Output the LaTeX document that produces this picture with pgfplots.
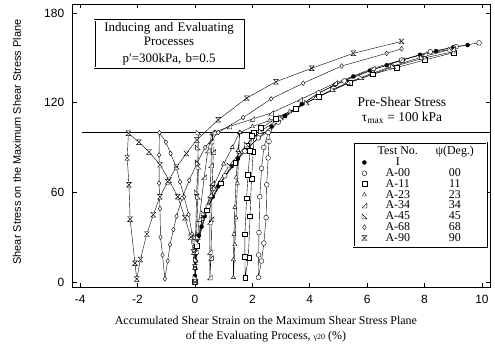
\documentclass[border=0pt]{standalone}
\usepackage{fontspec}
\setmainfont{Liberation Serif}
\setsansfont{Liberation Sans}
\usepackage{pgfplots}
\pgfplotsset{compat=1.18}
\pgfdeclareplotmark{hourglass}{%
  \pgfpathmoveto{\pgfqpoint{-\pgfplotmarksize}{\pgfplotmarksize}}%
  \pgfpathlineto{\pgfqpoint{\pgfplotmarksize}{\pgfplotmarksize}}%
  \pgfpathlineto{\pgfqpoint{-\pgfplotmarksize}{-\pgfplotmarksize}}%
  \pgfpathlineto{\pgfqpoint{\pgfplotmarksize}{-\pgfplotmarksize}}%
  \pgfpathclose\pgfusepathqfillstroke}
\pgfdeclareplotmark{rtria}{%
  \pgfpathmoveto{\pgfqpoint{-\pgfplotmarksize}{-\pgfplotmarksize}}%
  \pgfpathlineto{\pgfqpoint{\pgfplotmarksize}{-\pgfplotmarksize}}%
  \pgfpathlineto{\pgfqpoint{\pgfplotmarksize}{\pgfplotmarksize}}%
  \pgfpathclose\pgfusepathqfillstroke}
\pgfdeclareplotmark{rtrib}{%
  \pgfpathmoveto{\pgfqpoint{-\pgfplotmarksize}{\pgfplotmarksize}}%
  \pgfpathlineto{\pgfqpoint{-\pgfplotmarksize}{-\pgfplotmarksize}}%
  \pgfpathlineto{\pgfqpoint{\pgfplotmarksize}{-\pgfplotmarksize}}%
  \pgfpathclose\pgfusepathqfillstroke}
\begin{document}
\begin{tikzpicture}
\path[use as bounding box] (-72.7bp,-57bp) rectangle (422.3bp,287bp);
\begin{axis}[
  at={(0,0)}, anchor=south west,
  scale only axis, width=417.3bp, height=283bp,
  xmin=-4.26, xmax=10.28, ymin=-3.4, ymax=186,
  xtick={-4,-2,...,10}, ytick={0,60,120,180},
  tick align=inside, major tick length=4bp,
  axis line style={line width=1pt},
  every tick/.style={black, line width=0.8pt},
  tick label style={font=\sffamily\fontsize{12}{13}\selectfont},
  /pgf/number format/assume math mode=true,
  xticklabel style={yshift=-5bp},
  yticklabel style={xshift=-5bp},
  xlabel={Accumulated Shear Strain on the Maximum Shear Stress Plane\\of the Evaluating Process, {\footnotesize γ20} (\%)},
  xlabel style={at={(axis description cs:0.463,-0.150)}, anchor=center, align=center, font=\fontsize{12}{15}\selectfont},
  ylabel={Shear Stress on the Maximum Shear Stress Plane},
  ylabel style={at={(axis description cs:-0.1335,0.512)}, anchor=center, rotate=0, font=\sffamily\fontsize{11}{13}\selectfont},
  legend image code/.code={\draw[#1, only marks] plot coordinates {(0.3cm,0cm)};},
  legend style={at={(axis description cs:0.993,0.141)}, anchor=south east, draw=black, double, line width=0.6pt, double distance=1pt, font=\fontsize{12}{12}\selectfont, row sep=-2.6pt, inner sep=2pt},
  legend cell align=left,
  every axis plot/.append style={black, line width=0.4pt, mark size=2.4pt, mark options={solid, fill=white, line width=0.4pt}},
]
\addlegendimage{empty legend}
\addlegendentry{\makebox[58bp]{Test No.}\makebox[56bp]{ψ(Deg.)}\hspace{6bp}}

\addplot[forget plot, line width=0.6pt] coordinates {(-3.95,100) (10.28,100)};

% I (monotonic)
\addplot[mark=*, mark options={fill=black}, mark size=2pt] coordinates {
(0,0) (0,4) (0.01,9) (0.02,14) (0.04,19) (0.06,24) (0.14,31) (0.23,37) (0.34,44) (0.46,50.5) (0.62,57) (0.81,64) (1.04,71) (1.28,77.4) (1.5,82.5) (1.74,87.5) (2.21,96.4) (2.67,104) (3.14,111) (3.72,119) (4.3,126) (4.88,132) (5.52,137.5) (6.1,141.5) (6.68,145) (7.25,148.5) (7.84,152) (8.4,154.5) (9,157) (9.5,158.5)};
\addlegendentry{\makebox[58bp]{I}\makebox[56bp]{}\hspace{6bp}}

% A-00
\addplot[mark=*] coordinates {
(0,0) (0.06,24) (0.46,50.5) (1.04,71) (1.74,87.5) (2.21,96.4) (2.6,101)
(2.58,94) (2.55,83) (2.5,65) (2.48,43) (2.4,26) (2.32,14) (2.21,3)
(2.22,18) (2.23,33) (2.26,57) (2.32,76) (2.4,90) (2.55,100) (2.9,107) (3.5,115.5) (4.3,126.5) (5.2,134.5) (6.2,142) (7.2,148.5) (8.2,154) (9.1,157.5) (9.9,160)};
\addlegendentry{\makebox[58bp]{A-00}\makebox[56bp]{00}\hspace{6bp}}

% A-11
\addplot[mark=square*] coordinates {
(0,0) (0.06,24) (0.4,48) (0.9,66) (1.4,80) (1.8,91) (2.05,100)
(2.03,87) (1.97,69) (1.92,44) (1.86,16) (1.75,3)
(1.74,17) (1.74,32) (1.8,56) (1.85,72) (1.92,88) (1.98,98) (2.3,103) (2.81,109) (3.5,116) (4.3,124) (5.38,133.5) (6.2,139) (7.03,143.5) (8.0,148.5) (9.02,153.5)};
\addlegendentry{\makebox[58bp]{A-11}\makebox[56bp]{11}\hspace{6bp}}

% A-23
\addplot[mark=triangle*] coordinates {
(0,0) (0.04,20) (0.25,42) (0.6,62) (1.0,79) (1.3,90) (1.55,100)
(1.53,87) (1.48,66) (1.43,43) (1.39,25) (1.34,3)
(1.34,15) (1.36,32) (1.39,50) (1.44,70) (1.5,88) (1.57,100) (2.0,104) (2.6,108) (3.3,114) (4.2,123) (5.34,133) (6.9,144) (8.0,150) (9.0,154)};
\addlegendentry{\makebox[58bp]{A-23}\makebox[56bp]{23}\hspace{6bp}}

% A-34
\addplot[mark=rtria] coordinates {
(0,0) (0.03,20) (0.15,42) (0.32,70) (0.45,88) (0.6,100)
(0.64,87) (0.6,66) (0.58,42) (0.56,16) (0.52,3)
(0.52,20) (0.52,40) (0.53,58) (0.56,78) (0.58,94) (0.65,100) (1.2,104) (2.0,109) (2.65,113) (3.66,122) (4.88,133) (6.2,143) (7.2,148.5) (8.0,152.5) (9.0,156)};
\addlegendentry{\makebox[58bp]{A-34}\makebox[56bp]{34}\hspace{6bp}}

% A-45
\addplot[mark=rtrib] coordinates {
(0,0) (0.02,30) (0.06,60) (0.1,80) (0.12,100)
(0.1,90) (0.12,77) (0.1,57) (0.05,27) (0.02,3)
(0.03,15) (0.1,30) (0.3,46) (0.7,63) (1.2,78) (1.8,92) (2.3,101) (3.0,110) (3.9,120) (4.8,129) (5.8,137) (6.9,144.5) (7.9,150.5) (8.9,155.5)};
\addlegendentry{\makebox[58bp]{A-45}\makebox[56bp]{45}\hspace{6bp}}

% A-68
\addplot[mark=diamond*] coordinates {
(0,0) (0,10) (-0.03,20) (-0.1,32) (-0.22,45) (-0.38,57) (-0.52,67) (-0.66,77) (-0.85,86) (-1.01,93.5) (-1.24,99.8)
(-1.25,85) (-1.25,66) (-1.22,49) (-1.2,30) (-1.13,18) (-1.05,2)
(-0.95,14) (-0.87,25) (-0.75,35) (-0.64,44) (-0.45,56) (-0.2,68) (0.06,79) (0.35,90) (0.81,100) (1.68,110) (2.65,122.5) (3.77,133) (5.11,144.5) (6.68,153) (7.2,156)};
\addlegendentry{\makebox[58bp]{A-68}\makebox[56bp]{68}\hspace{6bp}}

% A-90
\addplot[mark=hourglass] coordinates {
(0,0) (0,10) (-0.05,20) (-0.15,30) (-0.35,43) (-0.6,57) (-0.9,68) (-1.22,78.5) (-1.6,87) (-1.95,93.5) (-2.32,99.5)
(-2.36,83) (-2.3,65) (-2.26,42) (-2.09,12.5) (-2.03,2)
(-1.9,15) (-1.68,32) (-1.45,45) (-1.22,57) (-0.95,67) (-0.64,77) (-0.3,86) (0.06,95) (0.81,108.5) (1.8,123) (2.82,134) (4.07,143) (5.52,153) (7.2,161)};
\addlegendentry{\makebox[58bp]{A-90}\makebox[56bp]{90}\hspace{6bp}}

\node[draw, double, line width=0.6pt, double distance=1pt, align=center, font=\fontsize{13}{14.5}\selectfont, text width=145bp, inner sep=2bp, fill=white] at (axis description cs:0.231,0.859) {Inducing and Evaluating\\Processes\\[3pt]p′=300kPa, b=0.5};
\node[align=center, font=\fontsize{13.5}{15}\selectfont] at (axis description cs:0.789,0.625) {Pre-Shear Stress\\τ\textsubscript{max} = 100 kPa};
\node[rotate=90, font=\sffamily\fontsize{8}{9}\selectfont] at (axis description cs:-0.0975,0.473) {τ\textsubscript{max} = ((σ\textsubscript{1}-σ\textsubscript{3})/2) (kPa)};
\end{axis}
\end{tikzpicture}
\end{document}
